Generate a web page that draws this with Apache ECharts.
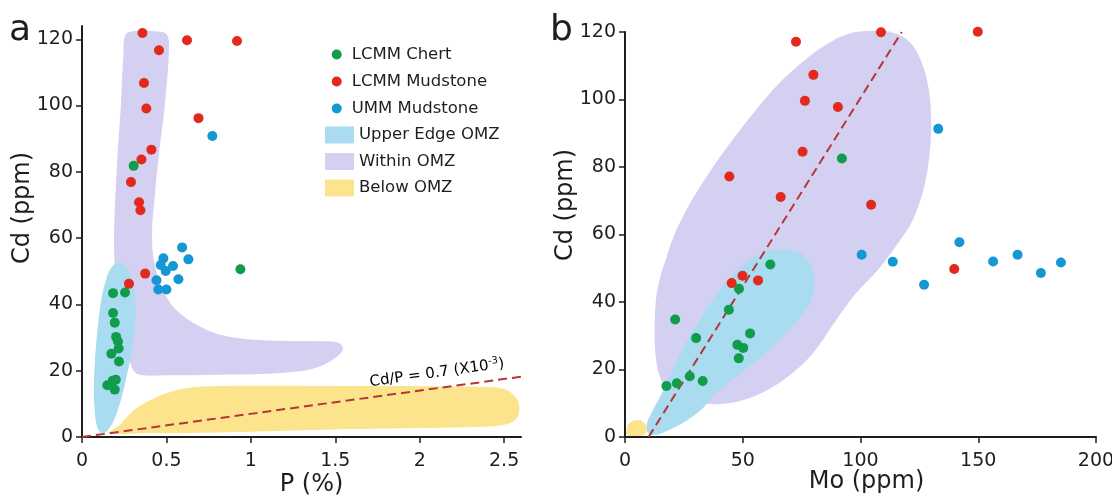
<!DOCTYPE html>
<html>
<head>
<meta charset="utf-8">
<script src="https://cdn.jsdelivr.net/npm/echarts@6/dist/echarts.min.js"></script>
<style>
  html, body { margin: 0; padding: 0; background: #ffffff; }
  #chart { width: 1112px; height: 496px; }
</style>
</head>
<body>
<div id="chart"></div>
<script>
// ---- Panel a: P (%) vs Cd (ppm) ----
const aChert = [[0.306, 81.8], [0.938, 50.6], [0.184, 43.4], [0.255, 43.6], [0.184, 37.4], [0.194, 34.5],
  [0.202, 30.2], [0.213, 28.8], [0.217, 26.7], [0.174, 25.1], [0.219, 22.8], [0.15, 15.6], [0.182, 17.0],
  [0.2, 17.3], [0.194, 14.3]];
const aMudstone = [[0.358, 121.9], [0.456, 116.7], [0.622, 119.7], [0.918, 119.5], [0.367, 106.8], [0.381, 99.1],
  [0.69, 96.2], [0.411, 86.7], [0.352, 83.7], [0.29, 76.9], [0.338, 70.8], [0.346, 68.4], [0.278, 46.2], [0.374, 49.3]];
const aUMM = [[0.593, 57.2], [0.63, 53.6], [0.482, 53.9], [0.466, 51.9], [0.539, 51.6], [0.496, 50.1], [0.571, 47.6],
  [0.441, 47.3], [0.452, 44.5], [0.5, 44.5], [0.772, 90.8]];

// ---- Panel b: Mo (ppm) vs Cd (ppm) ----
const bChert = [[61.7, 51.1], [48.4, 43.9], [44.1, 37.7], [21.3, 34.8], [30.2, 29.3], [53.1, 30.7], [47.7, 27.3],
  [50.2, 26.4], [48.3, 23.3], [27.5, 18.0], [33.0, 16.6], [22.0, 15.9], [17.6, 15.1], [92.1, 82.5]];
const bMudstone = [[72.6, 117.1], [80.0, 107.3], [76.4, 99.6], [90.4, 97.8], [75.4, 84.5], [44.3, 77.2], [66.1, 71.1],
  [108.7, 119.9], [149.8, 120.1], [104.5, 68.8], [139.8, 49.8], [45.3, 45.6], [49.9, 47.8], [56.5, 46.4]];
const bUMM = [[133.0, 91.3], [100.5, 54.0], [113.7, 51.9], [127.0, 45.1], [142.0, 57.7], [156.3, 52.0], [166.7, 54.0],
  [176.6, 48.6], [185.1, 51.7]];

// Field outlines (data coordinates)
const aWithinOMZ = [[0.26, 121.5], [0.33, 122.6], [0.43, 122.4], [0.5, 121.6], [0.515, 117], [0.49, 100], [0.455, 85],
  [0.43, 72], [0.415, 62], [0.43, 52], [0.5, 42.3], [0.58, 37.3], [0.74, 32.3], [0.9, 30.0], [1.1, 29.1], [1.4, 28.9],
  [1.52, 28.4], [1.545, 26.5], [1.5, 23.8], [1.42, 21.5], [1.3, 19.9], [1.1, 19.1], [0.8, 18.8], [0.5, 18.6],
  [0.34, 18.8], [0.3, 20.5], [0.27, 26], [0.24, 36], [0.2, 48], [0.19, 60], [0.205, 80], [0.23, 100], [0.245, 115]];
const aUpperEdgeOMZ = [[0.12, 1.0], [0.09, 3], [0.075, 8], [0.07, 15], [0.078, 24], [0.093, 33], [0.113, 41],
  [0.14, 47], [0.172, 51], [0.21, 52.5], [0.255, 51.5], [0.29, 48.5], [0.313, 43], [0.318, 37], [0.305, 29],
  [0.276, 21], [0.24, 13], [0.2, 6.5], [0.16, 2.5]];
const aBelowOMZ = [[0.16, 1.3], [0.22, 3.5], [0.3, 7.8], [0.4, 11], [0.5, 13.2], [0.62, 14.8], [0.8, 15.4],
  [1.5, 15.4], [2.3, 15.2], [2.5, 14.5], [2.575, 11.5], [2.59, 8], [2.56, 4.8], [2.45, 3.3], [2.2, 2.9],
  [1.6, 2.4], [1.0, 1.6], [0.4, 1.1]];

const bWithinOMZ = [[95, 119.5], [105, 120.4], [114, 119.8], [121, 117], [126, 111], [129, 103], [130, 94],
  [129.5, 85], [127, 74], [122, 64], [116.5, 58], [108, 50], [98, 42.5], [89, 34], [80, 25], [72, 19.5],
  [62, 14.5], [52, 11.3], [44, 10], [36, 9.8], [26, 11], [19, 13.5], [15, 17.5], [13, 24], [12.6, 33],
  [13.2, 41], [15, 47.5], [17.5, 53], [21, 60], [27, 68.5], [35, 77.5], [44, 86.5], [54, 95.5], [65, 104.5],
  [76, 111.5], [86, 116.5]];
const bUpperEdgeOMZ = [[9.5, 1.5], [9.3, 4], [11.5, 7.5], [16, 13.5], [21, 21], [26, 28], [31.5, 34.5], [37, 40.5],
  [43, 46], [49, 50.5], [55.5, 53.5], [62, 55.3], [68, 55.6], [74, 54.6], [78.5, 51.5], [80.5, 46], [79, 40.5],
  [75, 36], [68, 30.5], [60, 25], [52, 20.5], [44, 16], [38, 12.5], [33, 8.5], [27, 5.2], [20, 2.5], [15, 1],
  [11.5, 0.6]];
const bBelowOMZ = [[1, 0.6], [0.8, 2.5], [2, 4.2], [4.5, 5], [7, 4.8], [8.8, 3.5], [9.2, 1.8], [8, 0.6], [4, 0.3]];

// Reference lines
const CD_P_RATIO = 0.7e-3;            // Cd/P (mass ratio)
const aRatioLineP = [0, 2.6];          // P (%) span of the ratio line
const bTrendLine = [[10, 0], [117.5, 120]];

// Axis ticks
const aXTicks = [0, 0.5, 1, 1.5, 2, 2.5];
const aYTicks = [0, 20, 40, 60, 80, 100, 120];
const bXTicks = [0, 50, 100, 150, 200];
const bYTicks = [0, 20, 40, 60, 80, 100, 120];

const pointNames = ['LCMM Chert', 'LCMM Mudstone', 'UMM Mudstone'];
const fieldNames = ['Upper Edge OMZ', 'Within OMZ', 'Below OMZ'];

const FONT = 'DejaVu Sans';
const COLORS = {
  chert: '#119c4c', mud: '#e2291d', umm: '#1597d3',
  upper: '#a9dbf1', within: '#d4d0f2', below: '#fce48c', line: '#b3363a', ink: '#1e1e1e'
};

const chart = echarts.init(document.getElementById('chart'), null, { renderer: 'canvas' });

function fieldSeries(name, outline, color, idx, z) {
  return {
    type: 'custom', name: name, xAxisIndex: idx, yAxisIndex: idx, z: z, silent: true, clip: false,
    itemStyle: { color: color },
    data: [outline[0]],
    renderItem: function (params, api) {
      return {
        type: 'polygon',
        shape: { points: outline.map(function (p) { return api.coord(p); }), smooth: 0.35 },
        style: { fill: color }
      };
    }
  };
}

function pointSeries(name, data, color, idx) {
  return {
    type: 'scatter', name: name, xAxisIndex: idx, yAxisIndex: idx, data: data, z: 6, clip: false,
    symbol: 'circle', symbolSize: 10, itemStyle: { color: color, opacity: 1 }, silent: true
  };
}

function valueAxis(gridIndex, min, max, ticks, name, labelMargin, extra) {
  return Object.assign({
    type: 'value', gridIndex: gridIndex, min: min, max: max,
    name: name, nameLocation: 'middle', nameMoveOverlap: false,
    axisLine: { show: true, onZero: false, lineStyle: { color: COLORS.ink, width: 2 } },
    axisTick: { show: true, inside: false, length: 6, customValues: ticks, lineStyle: { color: COLORS.ink, width: 1.5 } },
    axisLabel: { show: true, customValues: ticks, fontFamily: FONT, fontSize: 19, color: COLORS.ink, margin: labelMargin },
    splitLine: { show: false }
  }, extra);
}

function nameStyle(shift) {
  return { fontFamily: FONT, fontSize: 24, color: COLORS.ink, padding: [0, 0, 0, shift] };
}

const ratioLine = aRatioLineP.map(function (p) { return [p, CD_P_RATIO * p * 1e4]; });

const option = {
  backgroundColor: '#ffffff',
  animation: false,
  textStyle: { fontFamily: FONT },
  grid: [
    { left: 82, top: 26, width: 439, height: 411, outerBoundsMode: 'none', containLabel: false },
    { left: 625, top: 32, width: 471, height: 405, outerBoundsMode: 'none', containLabel: false }
  ],
  xAxis: [
    valueAxis(0, 0, 2.6, aXTicks, 'P (%)', 15, { nameGap: 36, nameTextStyle: nameStyle(20) }),
    valueAxis(1, 0, 200, bXTicks, 'Mo (ppm)', 15, { nameGap: 33, nameTextStyle: nameStyle(12) })
  ],
  yAxis: [
    valueAxis(0, 0, 124, aYTicks, 'Cd (ppm)', 9, { nameGap: 47, nameTextStyle: nameStyle(47) }),
    valueAxis(1, 0, 120, bYTicks, 'Cd (ppm)', 9, { nameGap: 47, nameTextStyle: nameStyle(59) })
  ],
  legend: [
    {
      orient: 'vertical', left: 331.7, top: 46, padding: 0, itemWidth: 20, itemHeight: 10, itemGap: 10,
      icon: 'circle', selectedMode: false, data: pointNames,
      textStyle: { fontFamily: FONT, fontSize: 16.5, color: COLORS.ink }
    },
    {
      orient: 'vertical', left: 325, top: 126.5, padding: 0, itemWidth: 29, itemHeight: 17, itemGap: 9.5,
      icon: 'rect', selectedMode: false, data: fieldNames,
      textStyle: { fontFamily: FONT, fontSize: 16.5, color: COLORS.ink }
    }
  ],
  graphic: [
    { type: 'text', left: 9, top: 13, style: { text: 'a', font: '36px "' + FONT + '"', fill: COLORS.ink } },
    { type: 'text', left: 550, top: 13, style: { text: 'b', font: '36px "' + FONT + '"', fill: COLORS.ink } },
    {
      type: 'text', x: 437, y: 373, rotation: 0.14,
      style: {
        text: '{t|Cd/P = 0.7 (X10}{s|-3}{t|)}', align: 'center', verticalAlign: 'middle',
        rich: {
          t: { fontFamily: FONT, fontSize: 15, color: COLORS.ink, lineHeight: 18 },
          s: { fontFamily: FONT, fontSize: 10, color: COLORS.ink, verticalAlign: 'top', lineHeight: 18 }
        }
      }
    }
  ],
  series: [
    fieldSeries('Within OMZ', aWithinOMZ, COLORS.within, 0, 1),
    fieldSeries('Below OMZ', aBelowOMZ, COLORS.below, 0, 1),
    fieldSeries('Upper Edge OMZ', aUpperEdgeOMZ, COLORS.upper, 0, 2),
    fieldSeries('Within OMZ', bWithinOMZ, COLORS.within, 1, 1),
    fieldSeries('Upper Edge OMZ', bUpperEdgeOMZ, COLORS.upper, 1, 2),
    fieldSeries('Below OMZ', bBelowOMZ, COLORS.below, 1, 2),
    {
      type: 'line', xAxisIndex: 0, yAxisIndex: 0, data: ratioLine, showSymbol: false, silent: true, z: 4,
      lineStyle: { color: COLORS.line, width: 2, type: [9, 5] }
    },
    {
      type: 'line', xAxisIndex: 1, yAxisIndex: 1, data: bTrendLine, showSymbol: false, silent: true, z: 4,
      lineStyle: { color: COLORS.line, width: 2, type: [9, 5] }
    },
    pointSeries('LCMM Chert', aChert, COLORS.chert, 0),
    pointSeries('LCMM Mudstone', aMudstone, COLORS.mud, 0),
    pointSeries('UMM Mudstone', aUMM, COLORS.umm, 0),
    pointSeries('LCMM Chert', bChert, COLORS.chert, 1),
    pointSeries('LCMM Mudstone', bMudstone, COLORS.mud, 1),
    pointSeries('UMM Mudstone', bUMM, COLORS.umm, 1)
  ]
};

chart.setOption(option);
</script>
</body>
</html>
